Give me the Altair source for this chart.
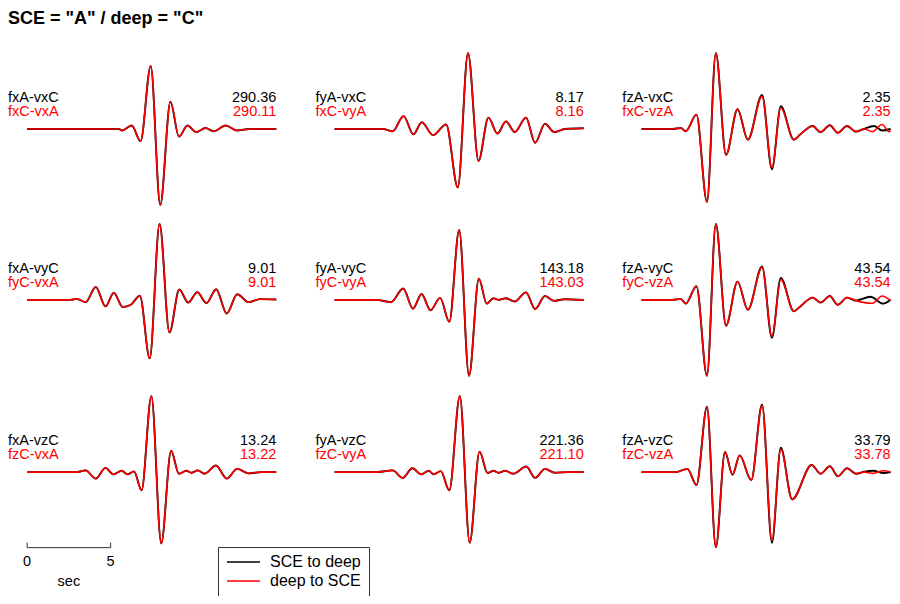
import altair as alt
import pandas as pd

# ---------------- text content ----------------
TITLE = 'SCE = "A" / deep = "C"'
SERIES = ["SCE to deep", "deep to SCE"]
SERIES_COLORS = ["#000000", "#ff0000"]

NAMES_SCE = [
    ["fxA-vxC", "fyA-vxC", "fzA-vxC"],
    ["fxA-vyC", "fyA-vyC", "fzA-vyC"],
    ["fxA-vzC", "fyA-vzC", "fzA-vzC"],
]
NAMES_DEEP = [
    ["fxC-vxA", "fxC-vyA", "fxC-vzA"],
    ["fyC-vxA", "fyC-vyA", "fyC-vzA"],
    ["fzC-vxA", "fzC-vyA", "fzC-vzA"],
]
PEAK_SCE = [["290.36", "8.17", "2.35"], ["9.01", "143.18", "43.54"], ["13.24", "221.36", "33.79"]]
PEAK_DEEP = [["290.11", "8.16", "2.35"], ["9.01", "143.03", "43.54"], ["13.22", "221.10", "33.78"]]

SCALE_TICKS = [0, 5]
SCALE_UNIT = "sec"

# ---------------- waveforms: time (s) and normalised amplitude ----------------
# row 1
T11 = [0, 5.5, 5.68, 6.26, 6.79, 7.40, 7.97, 8.58, 9.09, 9.60, 10.13, 10.68, 11.16, 11.89, 12.56, 13.3, 14.92]
A11 = [0, 0, -0.02, 0.046, -0.16, 0.83, -1.0, 0.36, -0.10, 0.046, -0.04, 0.013, -0.03, 0.046, -0.02, 0.0, 0.0]

T12 = [0, 2.9, 3.48, 4.13, 4.72, 5.22, 5.89, 6.68, 7.38, 7.99, 8.62, 9.21, 9.75, 10.26, 10.79, 11.46, 12.01, 12.6, 13.15, 13.78, 14.92]
A12 = [0, 0, -0.03, 0.17, -0.07, 0.09, -0.08, 0.06, -0.77, 1.0, -0.42, 0.15, -0.06, 0.10, -0.04, 0.15, -0.18, 0.07, -0.04, 0.0, 0.01]

T13_SCE = [0, 1.86, 2.35, 2.65, 3.29, 3.92, 4.45, 5.06, 5.75, 6.37, 7.22, 7.81, 8.34, 9.12, 9.51, 10.25, 10.72, 11.28, 11.75, 12.31, 12.84, 13.3, 13.93, 14.41, 14.92]
A13_SCE = [0, 0, 0.013, -0.03, 0.19, -0.96, 1.0, -0.34, 0.26, -0.14, 0.45, -0.53, 0.30, -0.14, -0.07, 0.04, -0.04, 0.05, -0.05, 0.04, -0.035, 0.0, 0.04, -0.02, 0.0]
T13_DEEP = [0, 1.86, 2.35, 2.65, 3.29, 3.92, 4.45, 5.06, 5.75, 6.37, 7.22, 7.81, 8.34, 9.12, 9.51, 10.25, 10.72, 11.28, 11.75, 12.31, 12.84, 13.35, 13.82, 14.41, 14.82, 14.92]
A13_DEEP = [0, 0, 0.013, -0.03, 0.19, -0.96, 1.0, -0.34, 0.26, -0.14, 0.43, -0.51, 0.28, -0.14, -0.07, 0.04, -0.04, 0.05, -0.05, 0.04, -0.035, 0.0, -0.035, 0.06, -0.035, -0.02]

# row 2
T21 = [0, 2.6, 2.97, 3.5, 4.11, 4.69, 5.19, 5.72, 6.21, 6.75, 7.34, 7.93, 8.52, 9.11, 9.64, 10.19, 10.74, 11.32, 11.95, 12.58, 13.26, 13.95, 14.92]
A21 = [0, 0, 0.013, -0.03, 0.17, -0.086, 0.094, -0.094, -0.064, 0.055, -0.77, 1.0, -0.43, 0.137, -0.035, 0.10, -0.042, 0.14, -0.18, 0.073, -0.03, 0.01, 0.004]

T22 = [0, 2.5, 3.38, 4.11, 4.69, 5.21, 5.74, 6.32, 6.87, 7.46, 8.05, 8.64, 9.11, 9.52, 9.81, 10.25, 10.79, 11.46, 12.01, 12.6, 13.15, 13.78, 14.92]
A22 = [0, 0, -0.03, 0.15, -0.115, 0.077, -0.137, 0.026, -0.29, 0.92, -1.0, 0.28, -0.05, 0.022, 0.0, 0.022, -0.022, 0.099, -0.12, 0.05, -0.013, 0.009, 0.0]

T23_SCE = [0, 1.86, 2.35, 2.65, 3.29, 3.92, 4.45, 5.06, 5.75, 6.37, 7.22, 7.81, 8.34, 9.12, 9.51, 10.25, 10.72, 11.28, 11.75, 12.31, 12.84, 13.71, 14.47, 14.92]
A23_SCE = [0, 0, 0.013, -0.05, 0.18, -1.0, 1.0, -0.34, 0.24, -0.13, 0.44, -0.50, 0.29, -0.15, -0.086, 0.03, -0.035, 0.05, -0.064, 0.03, -0.01, 0.04, -0.05, 0.0]
T23_DEEP = [0, 1.86, 2.35, 2.65, 3.29, 3.92, 4.45, 5.06, 5.75, 6.37, 7.22, 7.81, 8.34, 9.12, 9.51, 10.25, 10.72, 11.28, 11.75, 12.31, 12.84, 13.82, 14.41, 14.92]
A23_DEEP = [0, 0, 0.013, -0.05, 0.18, -1.0, 1.0, -0.34, 0.24, -0.13, 0.43, -0.48, 0.27, -0.15, -0.086, 0.03, -0.035, 0.05, -0.064, 0.03, -0.01, -0.045, 0.05, -0.013]

# row 3
T31 = [0, 2.97, 3.5, 4.11, 4.69, 5.16, 5.66, 6.01, 6.4, 6.85, 7.44, 8.03, 8.62, 9.09, 9.54, 9.83, 10.22, 10.62, 11.31, 11.95, 12.58, 13.26, 14.0, 14.92]
A31 = [0, 0, 0.022, -0.086, 0.055, -0.03, 0.017, -0.03, 0.009, -0.24, 1.0, -0.94, 0.28, -0.022, 0.017, -0.009, 0.022, -0.022, 0.086, -0.086, 0.042, -0.017, 0.0, 0.0]

T32 = [0, 2.5, 3.48, 4.07, 4.66, 5.19, 5.64, 5.93, 6.36, 6.87, 7.5, 8.09, 8.68, 9.16, 9.52, 9.81, 10.21, 10.69, 11.48, 12.01, 12.6, 13.19, 14.0, 14.92]
A32 = [0, 0, 0.022, -0.077, 0.05, -0.03, 0.017, -0.03, 0.013, -0.24, 1.0, -0.93, 0.27, -0.013, 0.017, -0.009, 0.017, -0.022, 0.073, -0.077, 0.042, -0.009, 0.0, 0.0]

T33_SCE = [0, 2.06, 2.75, 3.29, 3.92, 4.45, 5.0, 5.45, 5.88, 6.57, 7.22, 7.81, 8.34, 9.02, 10.19, 10.72, 11.28, 11.76, 12.31, 12.84, 13.35, 13.88, 14.47, 14.92]
A33_SCE = [0, 0, 0.042, -0.17, 0.86, -0.99, 0.265, -0.035, 0.22, -0.106, 0.89, -0.93, 0.32, -0.36, 0.094, -0.022, 0.077, -0.055, 0.05, -0.022, 0.006, 0.017, -0.013, 0.0]
T33_DEEP = T33_SCE
A33_DEEP = [0, 0, 0.042, -0.17, 0.86, -0.99, 0.265, -0.035, 0.22, -0.106, 0.875, -0.90, 0.30, -0.36, 0.094, -0.022, 0.077, -0.055, 0.05, -0.022, 0.0, -0.017, 0.017, 0.0]

TRACES = {
    (0, 0): ((T11, A11), (T11, A11)),
    (0, 1): ((T12, A12), (T12, A12)),
    (0, 2): ((T13_SCE, A13_SCE), (T13_DEEP, A13_DEEP)),
    (1, 0): ((T21, A21), (T21, A21)),
    (1, 1): ((T22, A22), (T22, A22)),
    (1, 2): ((T23_SCE, A23_SCE), (T23_DEEP, A23_DEEP)),
    (2, 0): ((T31, A31), (T31, A31)),
    (2, 1): ((T32, A32), (T32, A32)),
    (2, 2): ((T33_SCE, A33_SCE), (T33_DEEP, A33_DEEP)),
}

# ---------------- layout (not data) ----------------
COL_START = [0.0, 18.41, 36.79]       # time offset of each column (s)
ROW_BASE = [0.0, -2.25, -4.518]       # baseline of each row (amplitude units)
TRACE_END = 14.92
LABEL_GAP = 1.147
NAME_DY = [0.359, 0.167]
X_DOMAIN = [-1.147, 51.79]
Y_DOMAIN = [-6.150, 1.2776]
FONT = "Liberation Sans"
BAR_Y, TICK_Y2, TICK_LABEL_Y, UNIT_Y = -5.513, -5.446, -5.756, -6.013

recs = []
for (r, c), pair in TRACES.items():
    for s, (tt, aa) in zip(SERIES, pair):
        for i, (t, a) in enumerate(zip(tt, aa)):
            recs.append({"panel": f"r{r}c{c}", "series": s, "i": i,
                         "x": COL_START[c] + t, "y": ROW_BASE[r] + a})
lines = pd.DataFrame(recs)

xs = alt.Scale(domain=X_DOMAIN, nice=False, zero=False)
ys = alt.Scale(domain=Y_DOMAIN, nice=False, zero=False)
cs = alt.Scale(domain=SERIES, range=SERIES_COLORS)

LEG = alt.Legend(
    title=None, orient="none", legendX=210, legendY=515, direction="vertical",
    symbolType="stroke", symbolSize=1089, symbolStrokeWidth=1.5,
    labelFont=FONT, labelFontSize=16, labelColor="black", labelOffset=9,
    strokeColor="#333333", fillColor="white", padding=8, rowPadding=3, clipHeight=14,
)

layers = []
for s, w in zip(SERIES, [1.9, 1.6]):
    layers.append(
        alt.Chart(lines[lines.series == s]).mark_line(interpolate="monotone", strokeWidth=w).encode(
            x=alt.X("x:Q", scale=xs, axis=None),
            y=alt.Y("y:Q", scale=ys, axis=None),
            color=alt.Color("series:N", scale=cs, legend=LEG),
            detail="panel:N",
            order="i:Q",
        )
    )

# panel labels
for k, (names, peaks) in enumerate([(NAMES_SCE, PEAK_SCE), (NAMES_DEEP, PEAK_DEEP)]):
    left, right = [], []
    for r in range(3):
        for c in range(3):
            yv = ROW_BASE[r] + NAME_DY[k]
            left.append({"x": COL_START[c] - LABEL_GAP, "y": yv, "t": names[r][c]})
            right.append({"x": COL_START[c] + TRACE_END, "y": yv, "t": peaks[r][c]})
    for df, al in [(pd.DataFrame(left), "left"), (pd.DataFrame(right), "right")]:
        layers.append(
            alt.Chart(df).mark_text(align=al, baseline="alphabetic", font=FONT, fontSize=14.5,
                                    color=SERIES_COLORS[k]).encode(
                x=alt.X("x:Q", scale=xs, axis=None),
                y=alt.Y("y:Q", scale=ys, axis=None),
                text="t:N",
            )
        )

# time scale bar
bar = pd.DataFrame({"x": [SCALE_TICKS[0]], "x2": [SCALE_TICKS[-1]], "y": [BAR_Y]})
ticks = pd.DataFrame({"x": SCALE_TICKS, "y": [BAR_Y] * len(SCALE_TICKS),
                      "y2": [TICK_Y2] * len(SCALE_TICKS), "ty": [TICK_LABEL_Y] * len(SCALE_TICKS),
                      "t": [str(v) for v in SCALE_TICKS]})
unit = pd.DataFrame({"x": [(SCALE_TICKS[0] + SCALE_TICKS[-1]) / 2], "y": [UNIT_Y], "t": [SCALE_UNIT]})

layers.append(alt.Chart(bar).mark_rule(color="#333333", strokeWidth=1).encode(
    x=alt.X("x:Q", scale=xs, axis=None), x2="x2:Q", y=alt.Y("y:Q", scale=ys, axis=None)))
layers.append(alt.Chart(ticks).mark_rule(color="#333333", strokeWidth=1).encode(
    x=alt.X("x:Q", scale=xs, axis=None), y=alt.Y("y:Q", scale=ys, axis=None), y2="y2:Q"))
layers.append(alt.Chart(ticks).mark_text(align="center", baseline="alphabetic", font=FONT,
                                          fontSize=14.5, color="black").encode(
    x=alt.X("x:Q", scale=xs, axis=None), y=alt.Y("ty:Q", scale=ys, axis=None), text="t:N"))
layers.append(alt.Chart(unit).mark_text(align="center", baseline="alphabetic", font=FONT,
                                         fontSize=14.5, color="black").encode(
    x=alt.X("x:Q", scale=xs, axis=None), y=alt.Y("y:Q", scale=ys, axis=None), text="t:N"))

chart = alt.layer(*layers).properties(
    width=884, height=564,
    autosize=alt.AutoSizeParams(type="none"),
    padding={"left": 0, "top": 24, "right": 0, "bottom": 0},
    title=alt.TitleParams(TITLE, anchor="start", font=FONT, fontSize=18, fontWeight="bold",
                          color="black", offset=4),
).configure_view(stroke=None)

chart.save("out.html", embed_options={"renderer": "svg", "actions": False})
